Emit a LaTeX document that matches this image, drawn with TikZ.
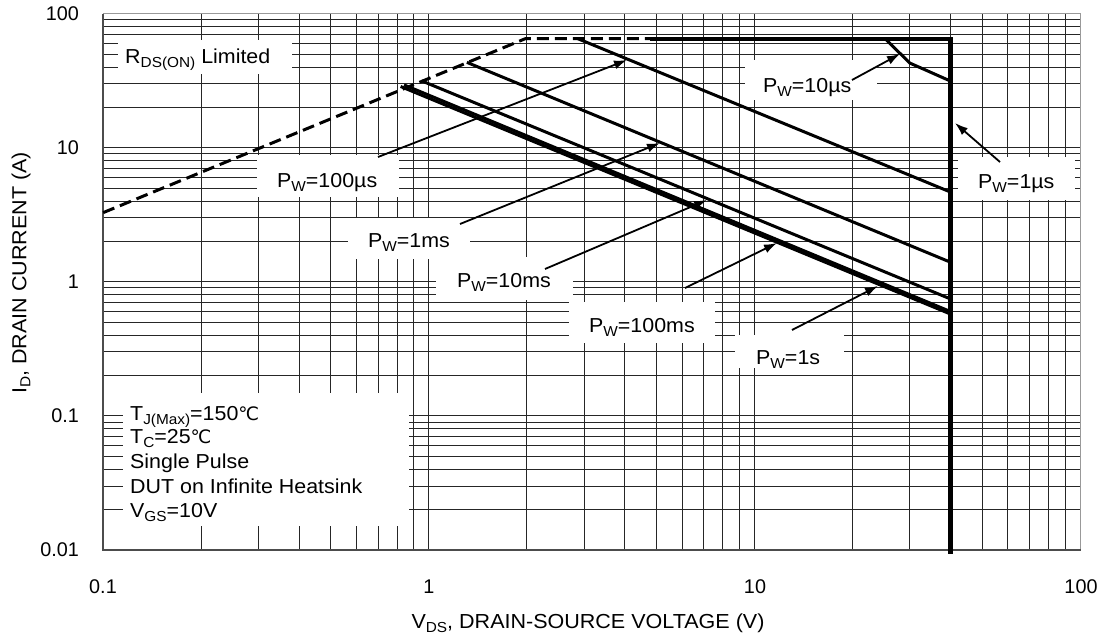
\documentclass[tikz,border=0pt]{standalone}
\usepackage{fontspec}
\setmainfont{Liberation Sans}
\newfontfamily\wide[FakeStretch=1.06]{Liberation Sans}
\newfontfamily\dejavu{DejaVu Sans}
\usetikzlibrary{arrows.meta}
\pgfmathdeclarefunction{vx}{1}{\pgfmathparse{103+325.7*(log10(#1)+1)}}
\pgfmathdeclarefunction{iy}{1}{\pgfmathparse{550-134.1*(log10(#1)+2)}}
\newcommand\sbs[1]{\raisebox{-4.2pt}{\fontsize{14.5}{15}\selectfont #1}}
\newcommand\degc{{\dejavu\fontsize{18.5}{20}\selectfont ℃}}
\tikzset{
  gridline/.style={draw=black!85, line width=0.9pt},
  frameA/.style={draw=black!70, line width=1.6pt},
  frameB/.style={draw=black!40, line width=1.6pt},
  curve/.style={draw=black, line width=3pt, line join=miter},
  bold curve/.style={draw=black, line width=4.2pt, line join=miter},
  arr/.style={draw=black, line width=1.8pt, -{Latex[length=13pt,width=9pt]}},
  lbl/.style={inner sep=0pt, anchor=base west, font=\wide\fontsize{20.2}{24}\selectfont},
  tick/.style={inner sep=0pt, font=\fontsize{19.8}{23}\selectfont},
  title/.style={inner sep=0pt, font=\wide\fontsize{20.3}{24}\selectfont},
  mask/.style={fill=white},
}
\begin{document}
\begin{tikzpicture}[x=1pt,y=-1pt]
\useasboundingbox (0,0) rectangle (1104,640);
\fill[white] (0,0) rectangle (1104,640);
% grid
\foreach \d in {0,1,2} \foreach \k in {1,...,9}
  \draw[gridline] ({103+325.7*(\d+log10(\k))},13.5) -- ({103+325.7*(\d+log10(\k))},550);
\foreach \d in {0,1,2,3} \foreach \k in {1,...,9}
  \draw[gridline] (103,{550-134.1*(\d+log10(\k))}) -- (1080,{550-134.1*(\d+log10(\k))});
% frame
\draw[frameB] (103,13.5) -- (1080.5,13.5) -- (1080.5,550);
\draw[frameA] (103,13.5) -- (103,550) -- (1080.5,550);
% masks behind labels
\fill[mask] (118,40) rectangle (292,74);
\fill[mask] (257,155) rectangle (399,197);
\fill[mask] (745,60) rectangle (877,100);
\fill[mask] (958,157) rectangle (1075,200);
\fill[mask] (348,218) rectangle (470,259);
\fill[mask] (436,257) rectangle (573,300);
\fill[mask] (569,302) rectangle (715,343);
\fill[mask] (735,335) rectangle (844,368);
\fill[mask] (123,393) rectangle (409,526);
% labels
\node[lbl] (rds) at (125,63) {R\sbs{DS(ON)} Limited};
\node[lbl] (t100us) at (277,187) {P\sbs{W}=100µs};
\node[lbl] (t10us) at (763,92) {P\sbs{W}=10µs};
\node[lbl] (t1us) at (978,188) {P\sbs{W}=1µs};
\node[lbl] (t1ms) at (368,247) {P\sbs{W}=1ms};
\node[lbl] (t10ms) at (457,287) {P\sbs{W}=10ms};
\node[lbl] (t100ms) at (589,332) {P\sbs{W}=100ms};
\node[lbl] (t1s) at (756,364) {P\sbs{W}=1s};
\node[lbl] (c1) at (130,420) {T\sbs{J(Max)}=150\degc};
\node[lbl] (c2) at (130,443) {T\sbs{C}=25\degc};
\node[lbl] (c3) at (130,468) {Single Pulse};
\node[lbl] (c4) at (130,493) {DUT on Infinite Heatsink};
\node[lbl] (c5) at (130,517) {V\sbs{GS}=10V};
% tick labels
\node[tick, anchor=east] (y100) at (79,14) {100};
\node[tick, anchor=east] (y10) at (79,148) {10};
\node[tick, anchor=east] (y1) at (79,282) {1};
\node[tick, anchor=east] (y01) at (79,416) {0.1};
\node[tick, anchor=east] (y001) at (79,550) {0.01};
\node[tick] (x01) at (103,587) {0.1};
\node[tick] (x1) at (429,587) {1};
\node[tick] (x10) at (755,587) {10};
\node[tick] (x100) at (1081,587) {100};
% axis titles
\node[title] (xt) at (588,623) {V\sbs{DS}, DRAIN-SOURCE VOLTAGE (V)};
\node[title, rotate=90] (yt) at (21,273) {I\sbs{D}, DRAIN CURRENT (A)};
% curves
\draw[curve, dash pattern=on 12pt off 6pt] ({vx(0.1)},{iy(3.28)}) -- ({vx(1.98)},{iy(65)}) -- ({vx(4.78)},{iy(65)});
\draw[bold curve] ({vx(4.78)},{iy(65)}) -- ({vx(40)},{iy(65)}) -- ({vx(40)},554);
\draw[curve] ({vx(25.2)},{iy(65)}) -- ({vx(30)},{iy(42.8)}) -- ({vx(40)},{iy(31.4)});
\draw[curve] ({vx(2.87)},{iy(65)}) -- ({vx(40)},{iy(4.67)});
\draw[curve] ({vx(1.31)},{iy(43.3)}) -- ({vx(40)},{iy(1.40)});
\draw[curve] ({vx(0.952)},{iy(31.5)}) -- ({vx(40)},{iy(0.745)});
\draw[curve] ({vx(0.84)},{iy(29.4)}) -- ({vx(40)},{iy(0.600)});
\draw[curve] ({vx(0.82)},{iy(28.6)}) -- ({vx(40)},{iy(0.575)});
% arrows
\coordinate (s100us) at (378,157); \coordinate (h100us) at (627,60);
\coordinate (s10us) at (852,80);   \coordinate (h10us) at (900,54);
\coordinate (s1us) at (1000,162);  \coordinate (h1us) at (955,123);
\coordinate (s1ms) at (460,224);   \coordinate (h1ms) at (660,143);
\coordinate (s10ms) at (545,269);  \coordinate (h10ms) at (707,200);
\coordinate (s100ms) at (685,288); \coordinate (h100ms) at (777,243);
\coordinate (s1s) at (792,330);    \coordinate (h1s) at (878,286);
\draw[arr] (s100us) -- (h100us);
\draw[arr] (s10us) -- (h10us);
\draw[arr] (s1us) -- (h1us);
\draw[arr] (s1ms) -- (h1ms);
\draw[arr] (s10ms) -- (h10ms);
\draw[arr] (s100ms) -- (h100ms);
\draw[arr] (s1s) -- (h1s);
\end{tikzpicture}
\end{document}
